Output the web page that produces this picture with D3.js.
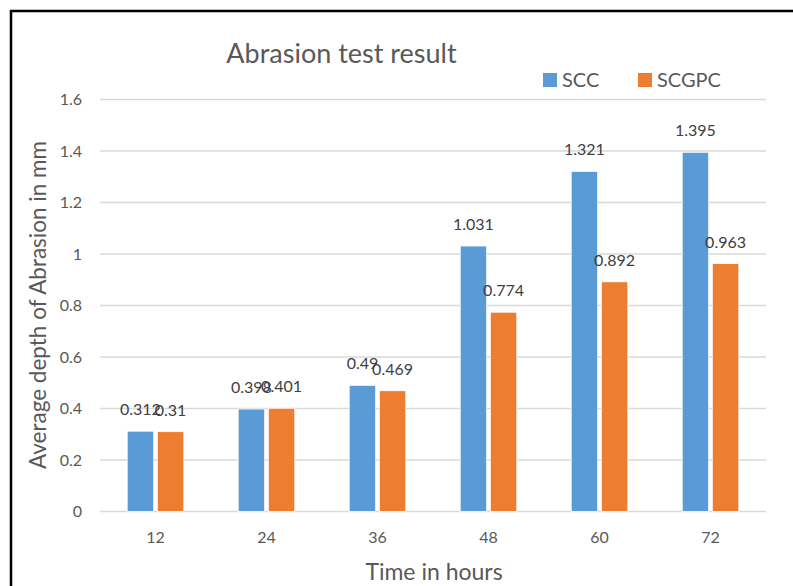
<!DOCTYPE html>
<html>
<head>
<meta charset="utf-8">
<script src="https://cdn.jsdelivr.net/npm/d3@7"></script>
<style>
  body { margin: 0; background: #fff; }
  svg { display: block; font-family: Lato, "Open Sans", sans-serif; }
</style>
</head>
<body>
<svg id="chart" width="793" height="586"></svg>
<script>
const hours = ["12", "24", "36", "48", "60", "72"];
const seriesNames = ["SCC", "SCGPC"];
const scc = [0.312, 0.398, 0.49, 1.031, 1.321, 1.395];
const scgpc = [0.31, 0.401, 0.469, 0.774, 0.892, 0.963];
const yTicks = [0, 0.2, 0.4, 0.6, 0.8, 1, 1.2, 1.4, 1.6];
const colors = ["#5B9BD5", "#ED7D31"];

const svg = d3.select("#chart");
const margin = { left: 100, right: 27, top: 99.5, bottom: 74.5 };
const width = 793 - margin.left - margin.right;
const height = 586 - margin.top - margin.bottom;

// outer frame (only left and top edges are visible in the crop)
svg.append("rect")
    .attr("x", 11).attr("y", 11)
    .attr("width", 900).attr("height", 700)
    .attr("fill", "none").attr("stroke", "#000").attr("stroke-width", 2.5);

const g = svg.append("g").attr("transform", `translate(${margin.left},${margin.top})`);

const x = d3.scaleBand().domain(hours).range([0, width]).paddingInner(0.49).paddingOuter(0.245);
const x1 = d3.scaleBand().domain(seriesNames).range([0, x.bandwidth()]).paddingInner(0.12);
const y = d3.scaleLinear().domain([0, 1.6]).range([height, 0]);

// gridlines
g.selectAll(".grid")
    .data(yTicks)
    .enter()
    .append("line")
    .attr("x1", 0).attr("x2", width)
    .attr("y1", d => y(d)).attr("y2", d => y(d))
    .attr("stroke", "#D9D9D9").attr("stroke-width", 1.5);

// y tick labels
g.selectAll(".ytick")
    .data(yTicks)
    .enter()
    .append("text")
    .attr("x", -18).attr("y", d => y(d))
    .attr("dy", "0.35em")
    .attr("text-anchor", "end")
    .attr("font-size", 16).attr("fill", "#595959")
    .text(d => d);

// x tick labels
g.selectAll(".xtick")
    .data(hours)
    .enter()
    .append("text")
    .attr("x", d => x(d) + x.bandwidth() / 2)
    .attr("y", height + 26)
    .attr("dy", "0.35em")
    .attr("text-anchor", "middle")
    .attr("font-size", 16).attr("fill", "#595959")
    .text(d => d);

const rows = hours.map((h, i) => ({ hour: h, values: [scc[i], scgpc[i]] }));

const groups = g.selectAll(".group")
    .data(rows)
    .enter()
    .append("g")
    .attr("transform", d => `translate(${x(d.hour)},0)`);

groups.selectAll("rect")
    .data(d => d.values.map((v, j) => ({ name: seriesNames[j], value: v, j })))
    .enter()
    .append("rect")
    .attr("x", d => x1(d.name))
    .attr("y", d => y(d.value))
    .attr("width", x1.bandwidth())
    .attr("height", d => height - y(d.value))
    .attr("fill", d => colors[d.j])
    .attr("stroke", "#fff").attr("stroke-width", 0.8);

groups.selectAll(".lbl")
    .data(d => d.values.map((v, j) => ({ name: seriesNames[j], value: v })))
    .enter()
    .append("text")
    .attr("x", d => x1(d.name) + x1.bandwidth() / 2)
    .attr("y", d => y(d.value) - 16)
    .attr("text-anchor", "middle")
    .attr("font-size", 16).attr("fill", "#404040")
    .text(d => d.value);

// title
svg.append("text")
    .attr("x", 341.5).attr("y", 63)
    .attr("text-anchor", "middle")
    .attr("font-size", 27).attr("fill", "#595959")
    .text("Abrasion test result");

// legend
const legend = svg.selectAll(".legend")
    .data(seriesNames)
    .enter()
    .append("g")
    .attr("transform", (d, i) => `translate(${[543, 638][i]},73)`);
legend.append("rect")
    .attr("width", 14).attr("height", 14)
    .attr("fill", (d, i) => colors[i]);
legend.append("text")
    .attr("x", 19).attr("y", 7)
    .attr("dy", "0.35em")
    .attr("font-size", 20).attr("fill", "#595959")
    .text(d => d);

// axis titles
svg.append("text")
    .attr("transform", "translate(38,305) rotate(-90)")
    .attr("text-anchor", "middle")
    .attr("dy", "0.35em")
    .attr("font-size", 22.5).attr("fill", "#595959")
    .text("Average depth of Abrasion in mm");

svg.append("text")
    .attr("x", 434).attr("y", 572)
    .attr("dy", "0.35em")
    .attr("text-anchor", "middle")
    .attr("font-size", 23).attr("fill", "#595959")
    .text("Time in hours");
</script>
</body>
</html>
